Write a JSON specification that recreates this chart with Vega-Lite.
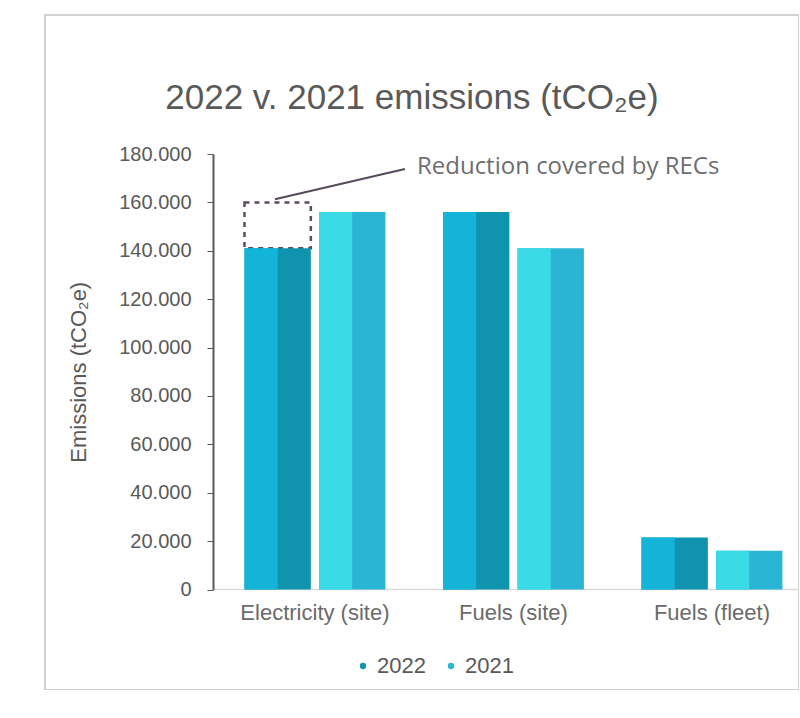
{
  "$schema": "https://vega.github.io/schema/vega-lite/v6.json",
  "width": 754,
  "height": 675,
  "padding": {"left": 45, "top": 15, "right": 0, "bottom": 0},
  "autosize": {"type": "pad"},
  "background": "white",
  "config": {
    "view": {"stroke": "#c4c4c4", "strokeWidth": 1.5},
    "font": "Liberation Sans"
  },
  "title": {
    "text": "2022 v. 2021 emissions (tCO₂e)",
    "fontSize": 35,
    "fontWeight": "normal",
    "color": "#595959",
    "anchor": "middle",
    "baseline": "alphabetic",
    "offset": -129,
    "dx": -10
  },
  "data": {
    "values": [
      {"category": "Electricity (site)", "year": "2022", "emissions": 141000},
      {"category": "Electricity (site)", "year": "2021", "emissions": 156000},
      {"category": "Fuels (site)", "year": "2022", "emissions": 156000},
      {"category": "Fuels (site)", "year": "2021", "emissions": 141000},
      {"category": "Fuels (fleet)", "year": "2022", "emissions": 21500},
      {"category": "Fuels (fleet)", "year": "2021", "emissions": 16000}
    ]
  },
  "encoding": {
    "x": {
      "field": "category",
      "type": "nominal",
      "sort": ["Electricity (site)", "Fuels (site)", "Fuels (fleet)"],
      "scale": {"range": [168, 754], "paddingInner": 0.29, "paddingOuter": 0.121, "align": 0.655},
      "axis": {
        "title": null,
        "offset": -101,
        "labelAngle": 0,
        "labelFontSize": 22,
        "labelColor": "#6b6b6b",
        "labelPadding": 13,
        "ticks": false,
        "domainColor": "#d9d9d9",
        "domainWidth": 1.5
      }
    },
    "y": {
      "type": "quantitative",
      "scale": {"domain": [0, 180000], "range": [574.5, 139], "nice": false, "zero": true},
      "axis": {
        "title": "Emissions (tCO₂e)",
        "offset": -168,
        "values": [0, 20000, 40000, 60000, 80000, 100000, 120000, 140000, 160000, 180000],
        "labelExpr": "replace(format(datum.value, ','), ',', '.')",
        "labelFontSize": 20,
        "labelColor": "#595959",
        "labelPadding": 16,
        "tickSize": 6,
        "tickColor": "#595959",
        "domainColor": "#595959",
        "domainWidth": 2,
        "grid": false,
        "titleFontSize": 22,
        "titleFontWeight": "normal",
        "titleColor": "#595959",
        "titlePadding": 28
      }
    }
  },
  "resolve": {"scale": {"xOffset": "independent"}},
  "layer": [
    {
      "data": {"values": [{"category": "Electricity (site)", "year": "2022", "low": 141000, "high": 160000}]},
      "mark": {"type": "bar", "fill": null, "fillOpacity": 0, "stroke": "#5e4d62", "strokeWidth": 2.5, "strokeDash": [5, 5]},
      "encoding": {
        "xOffset": {"field": "year", "type": "nominal", "scale": {"domain": ["2022", "2021"], "paddingInner": 0.11, "paddingOuter": 0}},
        "y": {"field": "low", "type": "quantitative"},
        "y2": {"field": "high"}
      }
    },
    {
      "mark": {"type": "bar"},
      "encoding": {
        "xOffset": {"field": "year", "type": "nominal", "scale": {"domain": ["2022", "2021"], "paddingInner": 0.11, "paddingOuter": 0}},
        "y": {"field": "emissions", "type": "quantitative"},
        "color": {
          "field": "year",
          "type": "nominal",
          "scale": {"domain": ["2022", "2021"], "range": ["#0f93ae", "#2ab5d5"]},
          "legend": {
            "orient": "none",
            "legendX": 307,
            "legendY": 640,
            "direction": "horizontal",
            "title": null,
            "symbolType": "circle",
            "symbolSize": 40,
            "labelFontSize": 22,
            "labelColor": "#595959",
            "labelOffset": 3,
            "columnPadding": 14
          }
        }
      }
    },
    {
      "mark": {"type": "bar"},
      "encoding": {
        "xOffset": {"field": "year", "type": "nominal", "scale": {"domain": ["2022", "2021"], "paddingInner": 0.555, "paddingOuter": 0.2226, "align": 0}},
        "y": {"field": "emissions", "type": "quantitative"},
        "color": {"condition": {"test": "datum.year == '2022'", "value": "#14b4d8"}, "value": "#3adbe6"}
      }
    },
    {
      "data": {"values": [{"category": "Electricity (site)", "from": 161300, "to": 173800}]},
      "mark": {"type": "rule", "color": "#574a5c", "strokeWidth": 2, "xOffset": -40, "x2Offset": 90},
      "encoding": {
        "x": {"field": "category", "type": "nominal"},
        "x2": {"field": "category"},
        "y": {"field": "from", "type": "quantitative"},
        "y2": {"field": "to"}
      }
    },
    {
      "data": {"values": [{"category": "Electricity (site)", "note": "Reduction covered by RECs", "at": 174600}]},
      "mark": {"type": "text", "align": "left", "baseline": "middle", "dx": 102, "font": "Open Sans", "fontSize": 24, "color": "#6e6e6e"},
      "encoding": {
        "x": {"field": "category", "type": "nominal"},
        "y": {"field": "at", "type": "quantitative"},
        "text": {"field": "note"}
      }
    }
  ]
}
